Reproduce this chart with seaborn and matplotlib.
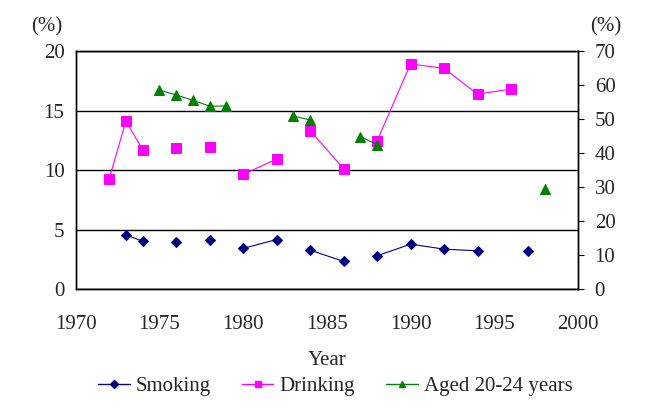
import numpy as np
import pandas as pd
import matplotlib
matplotlib.use("Agg")
import matplotlib.pyplot as plt
from matplotlib.lines import Line2D
import seaborn as sns

# NaN marks a break in the line (missing year)
smoking_years = [1973, 1974, 1975, 1976, 1977, 1978, 1979, 1980, 1982, 1983, 1984, 1986,
                 1987, 1988, 1990, 1992, 1994, 1995, 1997]
smoking_vals = [4.55, 4.02, np.nan, 3.96, np.nan, 4.10, np.nan, 3.41, 4.16, np.nan, 3.27, 2.32,
                np.nan, 2.79, 3.77, 3.35, 3.21, np.nan, 3.21]

drinking_years = [1972, 1973, 1974, 1975, 1976, 1977, 1978, 1979, 1980, 1982, 1983, 1984, 1986,
                  1987, 1988, 1990, 1992, 1994, 1996]
drinking_vals = [32.3, 49.4, 41.0, np.nan, 41.4, np.nan, 41.7, np.nan, 33.7, 38.2, np.nan, 46.6, 35.4,
                 np.nan, 43.5, 66.2, 64.9, 57.3, 58.8]

aged_years = [1975, 1976, 1977, 1978, 1979, 1980, 1983, 1984, 1985, 1987, 1988, 1989, 1998]
aged_vals = [58.5, 57.1, 55.5, 53.8, 53.8, np.nan, 50.9, 49.7, np.nan, 44.8, 42.5, np.nan, 29.3]


def to_frame(years, vals):
    df = pd.DataFrame({"year": years, "value": vals})
    df["seg"] = df["value"].isna().cumsum()
    return df.dropna()


df_smoke = to_frame(smoking_years, smoking_vals)
df_drink = to_frame(drinking_years, drinking_vals)
df_aged = to_frame(aged_years, aged_vals)

sns.set_style("white")
plt.rcParams["font.family"] = ["Liberation Serif", "DejaVu Serif"]

navy, magenta, green = "#000080", "#FF00FF", "#008000"
fs = 15

fig = plt.figure(figsize=(6.71, 4.12), dpi=100)
ax = fig.add_axes([0.1127, 0.2985, 0.7487, 0.5777])
ax2 = ax.twinx()

sns.lineplot(data=df_smoke, x="year", y="value", units="seg", estimator=None, ax=ax,
             color=navy, marker="D", markersize=5, markeredgecolor=navy, linewidth=0.8)
sns.lineplot(data=df_drink, x="year", y="value", units="seg", estimator=None, ax=ax2,
             color=magenta, marker="s", markersize=7, markeredgecolor=magenta, linewidth=0.8)
sns.lineplot(data=df_aged, x="year", y="value", units="seg", estimator=None, ax=ax2,
             color=green, marker="^", markersize=7, markeredgecolor=green, linewidth=0.8)

ax.set_xlim(1970, 2000)
ax.set_ylim(0, 20)
ax2.set_ylim(0, 70)
ax.set_xticks(range(1970, 2001, 5))
ax.set_yticks(range(0, 21, 5))
ax2.set_yticks(range(0, 71, 10))
ax.grid(axis="y", color="black", linewidth=1)
ax.grid(axis="x", visible=False)
ax2.grid(False)

for a in (ax, ax2):
    for s in a.spines.values():
        s.set_color("black")
        s.set_linewidth(1)

ax.tick_params(axis="x", direction="in", length=5, color="black", labelsize=fs, pad=19)
ax.tick_params(axis="y", length=0, labelsize=fs, pad=8)
ax2.tick_params(axis="y", direction="out", length=4, color="black", labelsize=fs, pad=8)

ax.set_xlabel("Year", fontsize=fs, labelpad=12)
ax.set_ylabel("")
ax2.set_ylabel("")

fig.text(0.07, 0.935, "(%)", fontsize=fs, ha="center", va="center")
fig.text(0.903, 0.935, "(%)", fontsize=fs, ha="center", va="center")

handles = [
    Line2D([], [], color=navy, marker="D", markersize=4, linewidth=1),
    Line2D([], [], color=magenta, marker="s", markersize=5, linewidth=1),
    Line2D([], [], color=green, marker="^", markersize=5, linewidth=1),
]
fig.legend(handles, ["Smoking", "Drinking", "Aged 20-24 years"], loc="center",
           bbox_to_anchor=(0.5, 0.062), ncol=3, frameon=False, fontsize=fs,
           handlelength=1.5, handletextpad=0.3, columnspacing=1.5)

fig.savefig("out.png", dpi=100)
